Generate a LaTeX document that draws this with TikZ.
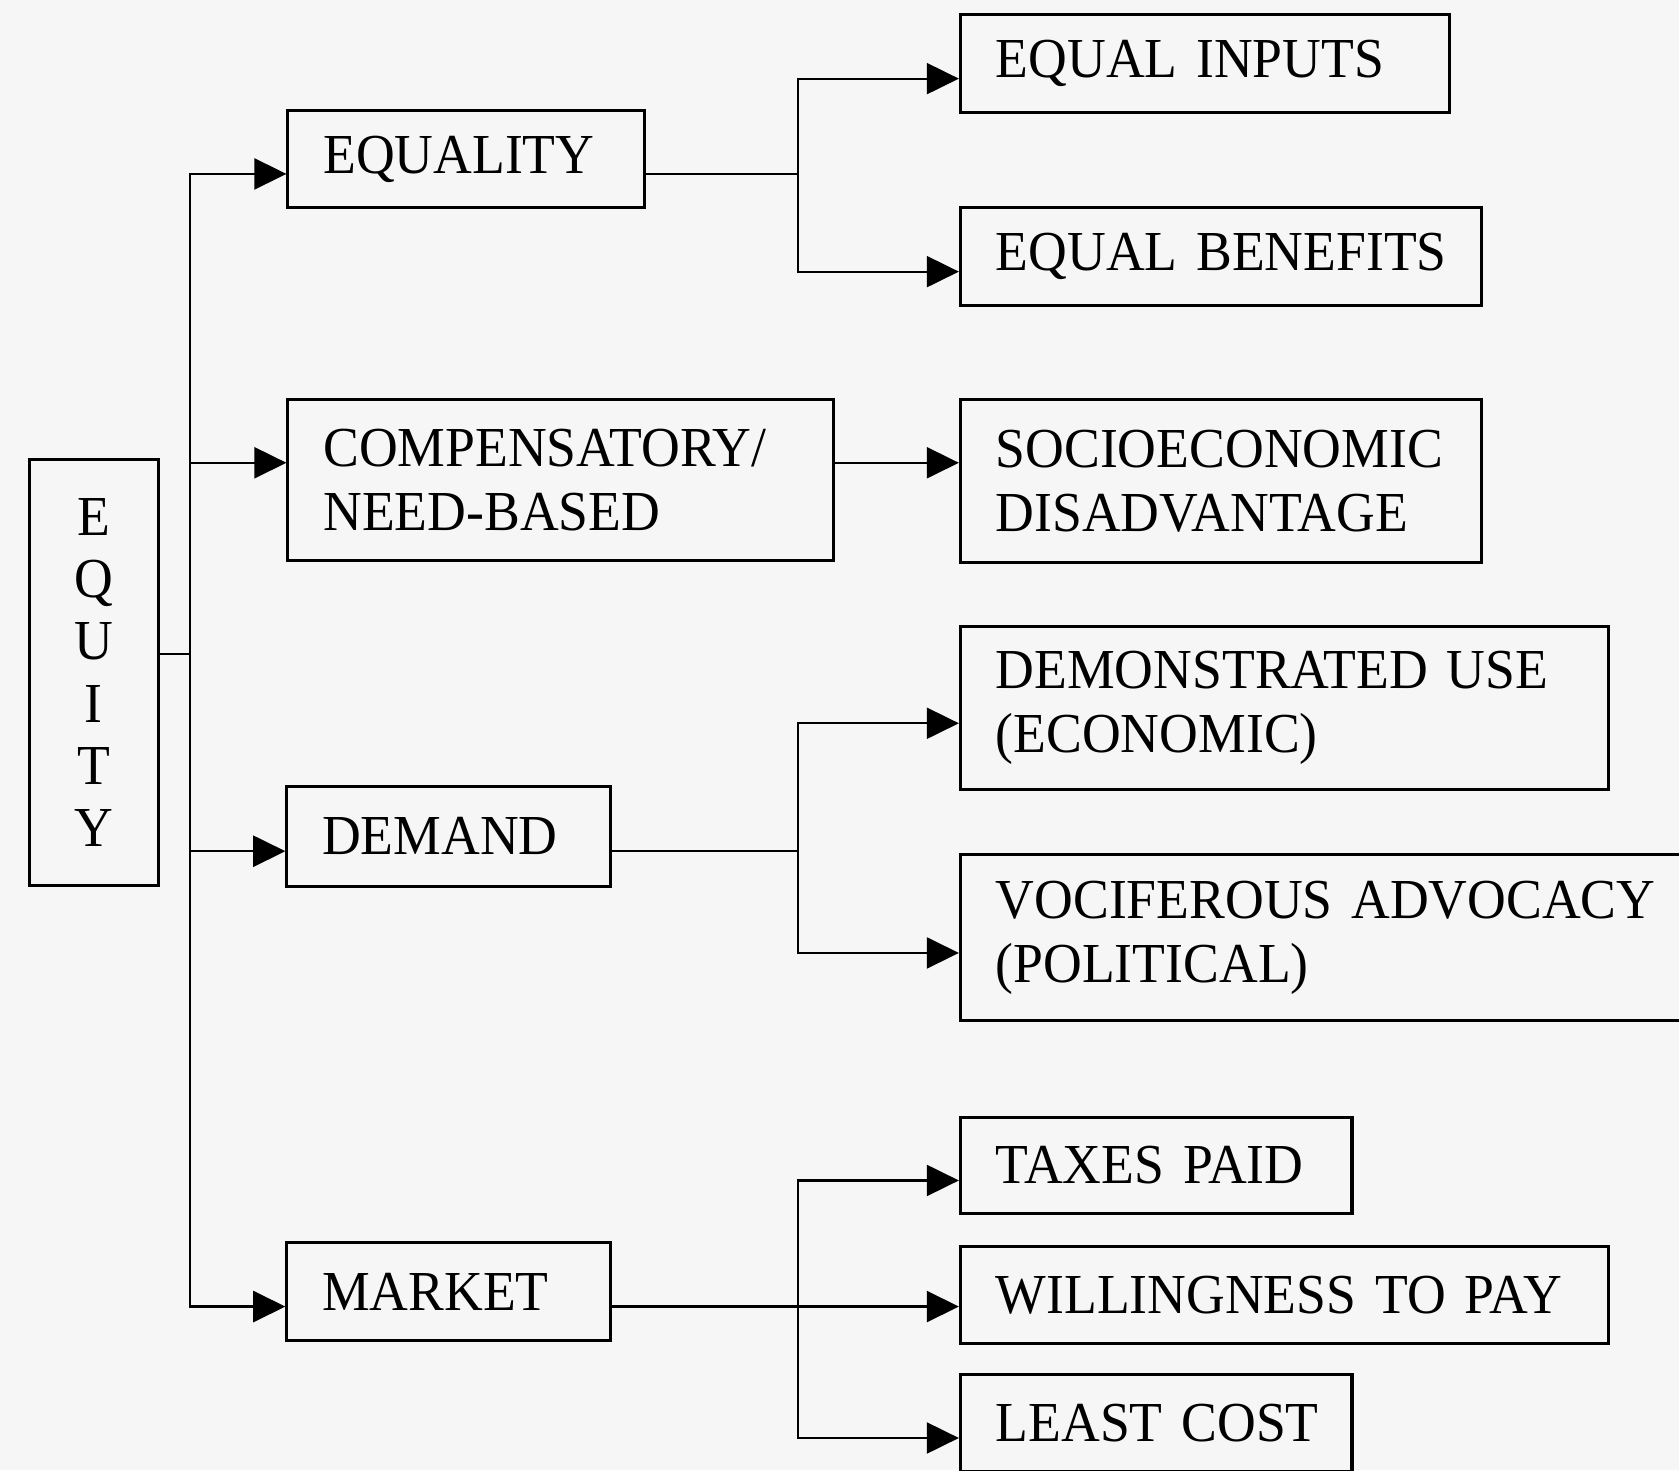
\documentclass[tikz,border=0pt]{standalone}
\usepackage{fontspec}
\setmainfont{Liberation Serif}[FakeStretch = 0.95]
\usetikzlibrary{arrows.meta}
\definecolor{paper}{RGB}{246,246,246}

\begin{document}
\begin{tikzpicture}[> = {Triangle[length = 3mm, width = 2.9mm]}, x = 0.01cm, y = -0.01cm,
	font = \fontsize{15}{17}\selectfont,
	box/.style = {draw, line width = 0.8pt, anchor = north west, align = left, inner xsep = 3.3mm, inner ysep = 0pt,
		execute at begin node = {\hyphenpenalty = 10000}},
	link/.style = {line width = 0.6pt}]

	% Page
	
	\path [use as bounding box, fill = paper] (0, 0) rectangle (1568, 1373);
	
	% Root and first level
	
	\node [box, align = center, text width = 0.545cm, minimum height = 3.97cm,
		font = \fontsize{15}{16.5}\selectfont] (equity) at (26, 428) {E\\Q\\U\\I\\T\\Y};
	
	\node [box, text width = 2.665cm, minimum height = 0.90cm] (equality) at (267.5, 102) {EQUALITY};
	\node [box, text width = 4.43cm, minimum height = 1.505cm] (compensatory) at (267.5, 371.5) {COMPENSATORY/\\NEED-BASED};
	\node [box, text width = 2.365cm, minimum height = 0.93cm] (demand) at (266.5, 733) {DEMAND};
	\node [box, text width = 2.365cm, minimum height = 0.915cm] (market) at (266.5, 1159) {MARKET};
	
	% Second level (ties keep each line whole)
	
	\node [box, text width = 3.905cm, minimum height = 0.92cm] (inputs) at (895.5, 12) {EQUAL~INPUTS};
	\node [box, text width = 4.205cm, minimum height = 0.915cm] (benefits) at (895.5, 192.5) {EQUAL~BENEFITS};
	\node [box, text width = 4.205cm, minimum height = 1.515cm] (socio) at (895.5, 372) {SOCIOECONOMIC\\DISADVANTAGE};
	\node [box, text width = 5.39cm, minimum height = 1.52cm] (demonstrated) at (895.5, 584) {DEMONSTRATED~USE\\(ECONOMIC)};
	\node [box, text width = 6.485cm, minimum height = 1.55cm] (vociferous) at (895.5, 797) {VOCIFEROUS~ADVOCACY\\(POLITICAL)};
	\node [box, text width = 2.995cm, minimum height = 0.90cm] (taxes) at (895.5, 1042) {TAXES~PAID};
	\node [box, text width = 5.39cm, minimum height = 0.90cm] (willingness) at (895.5, 1163) {WILLINGNESS~TO~PAY};
	\node [box, text width = 2.995cm, minimum height = 0.91cm] (leastcost) at (895.5, 1282) {LEAST~COST};
	
	% Spine from the root
	
	\coordinate (spine) at (177.5, 611);
	\coordinate (fork) at (745, 0);
	
	\draw [link] (spine -| equity.east) -- (spine);
	\draw [link, ->] (spine) |- ([yshift = -1.4mm] equality.west);
	\draw [link, ->] (spine) |- ([yshift = 1.6mm] compensatory.west);
	\draw [link, ->] (spine) |- ([yshift = -1.4mm] demand.west);
	\draw [link, ->] (spine) |- ([yshift = -1.4mm] market.west);
	
	% Branches to the second level
	
	\draw [link] ([yshift = -1.4mm] equality.east) -- ([yshift = -1.4mm] equality.east -| fork) coordinate (f1);
	\draw [link, ->] (f1) |- ([yshift = -1.4mm] inputs.west);
	\draw [link, ->] (f1) |- ([yshift = -1.4mm] benefits.west);
	
	\draw [link, ->] ([yshift = 1.6mm] compensatory.east) -- ([yshift = 1.6mm] compensatory.east -| socio.west);
	
	\draw [link] ([yshift = -1.4mm] demand.east) -- ([yshift = -1.4mm] demand.east -| fork) coordinate (f2);
	\draw [link, ->] (f2) |- ([yshift = -1.4mm] demonstrated.west);
	\draw [link, ->] (f2) |- ([yshift = -1.4mm] vociferous.west);
	
	\draw [link, ->] ([yshift = -1.4mm] market.east) -- ([yshift = -1.4mm] market.east -| willingness.west);
	\coordinate (f3) at ([yshift = -1.4mm] market.east -| fork);
	\draw [link, ->] (f3) |- ([yshift = -1.4mm] taxes.west);
	\draw [link, ->] (f3) |- ([yshift = -1.4mm] leastcost.west);

\end{tikzpicture}
\end{document}
